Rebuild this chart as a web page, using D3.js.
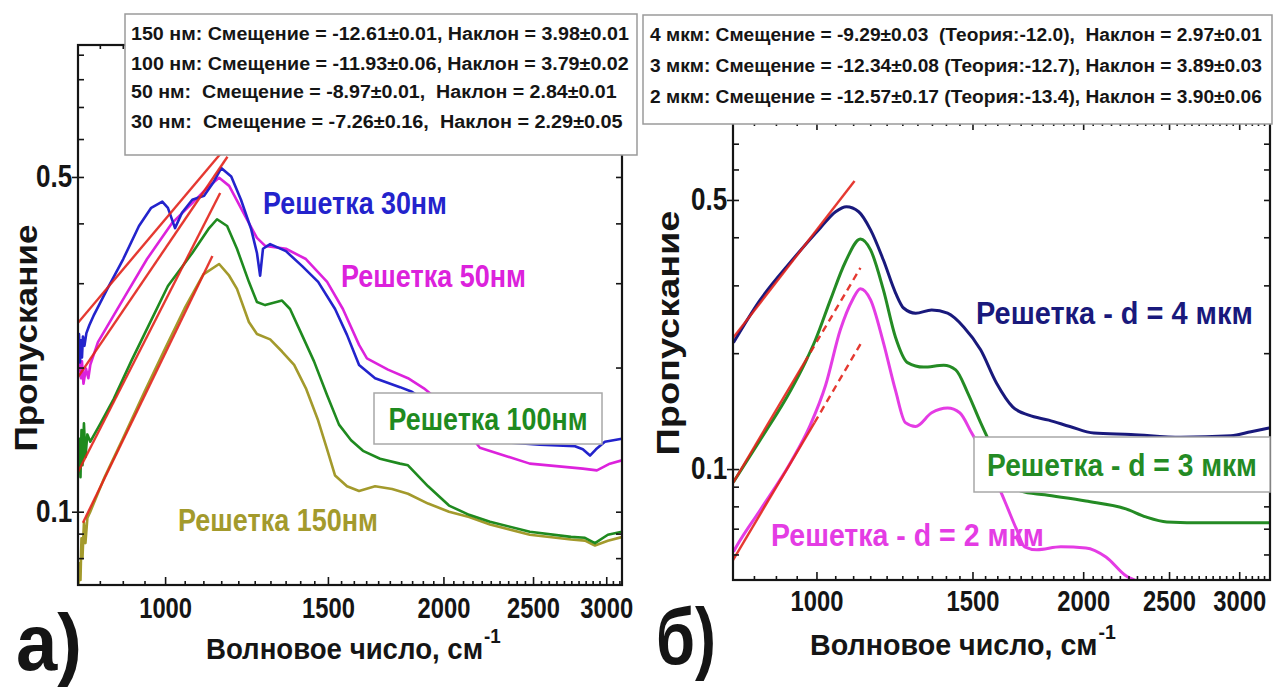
<!DOCTYPE html>
<html>
<head>
<meta charset="utf-8">
<script src="https://cdn.jsdelivr.net/npm/d3@7"></script>
<style>
  html, body { margin: 0; padding: 0; background: #fff; }
  svg text { font-family: "Liberation Sans", Arial, sans-serif; white-space: pre; }
</style>
</head>
<body>
<svg id="chart" width="1274" height="690"></svg>
<script>
// ---------- data ----------
const X_TICKS   = [1000, 1500, 2000, 2500, 3000];
const Y_TICKS   = [0.1, 0.5];
const Y_MINOR_A = [0.08, 0.09, 0.2, 0.3, 0.4, 0.6, 0.7, 0.8, 0.9];
const Y_MINOR_B = [0.06, 0.07, 0.08, 0.09, 0.2, 0.3, 0.4, 0.6, 0.7];

const LEGEND_A = [
  "150 нм: Смещение = -12.61±0.01, Наклон = 3.98±0.01",
  "100 нм: Смещение = -11.93±0.06, Наклон = 3.79±0.02",
  "50 нм:  Смещение = -8.97±0.01,  Наклон = 2.84±0.01",
  "30 нм:  Смещение = -7.26±0.16,  Наклон = 2.29±0.05"
];
const LEGEND_B = [
  "4 мкм: Смещение = -9.29±0.03  (Теория:-12.0),  Наклон = 2.97±0.01",
  "3 мкм: Смещение = -12.34±0.08 (Теория:-12.7), Наклон = 3.89±0.03",
  "2 мкм: Смещение = -12.57±0.17 (Теория:-13.4), Наклон = 3.90±0.06"
];

// panel а) : [wavenumber cm-1, transmission]
const NM30 = [[805,0.212],[807,0.235],[809,0.205],[811,0.228],[813,0.21],[815,0.232],[818,0.222],[822,0.236],[828,0.245],
  [838,0.258],[866,0.292],[901,0.337],[937,0.395],[966,0.431],[993,0.444],[1007,0.431],[1025,0.391],[1043,0.421],
  [1070,0.448],[1102,0.457],[1127,0.486],[1150,0.522],[1179,0.501],[1208,0.448],[1239,0.389],[1257,0.347],[1267,0.311],
  [1276,0.354],[1299,0.362],[1351,0.350],[1406,0.326],[1464,0.302],[1527,0.265],[1573,0.234],[1621,0.2025],[1687,0.190],
  [1795,0.182],[1849,0.178],[1983,0.163],[2190,0.141],[2543,0.138],[2775,0.137],[2830,0.135],[2881,0.131],[2924,0.135],
  [2990,0.140],[3119,0.142]];
const NM50 = [[805,0.196],[808,0.212],[811,0.19],[813,0.206],[816,0.185],[821,0.199],[826,0.19],[830,0.2025],[846,0.226],
  [901,0.278],[956,0.337],[1018,0.401],[1070,0.441],[1116,0.479],[1144,0.498],[1173,0.479],[1220,0.415],[1257,0.373],
  [1283,0.359],[1351,0.354],[1420,0.337],[1497,0.302],[1557,0.265],[1621,0.223],[1653,0.209],[1742,0.198],[1831,0.190],
  [1905,0.181],[2033,0.163],[2190,0.136],[2480,0.126],[2830,0.123],[2931,0.122],[3027,0.126],[3119,0.128]];
const NM100 = [[805,0.122],[808,0.142],[810,0.118],[812,0.148],[814,0.125],[817,0.153],[820,0.13],[824,0.145],[830,0.14],
  [850,0.152],[880,0.172],[920,0.207],[960,0.245],[1007,0.296],[1040,0.322],[1070,0.347],[1116,0.391],[1138,0.408],
  [1167,0.395],[1196,0.354],[1232,0.302],[1257,0.274],[1283,0.270],[1338,0.276],[1365,0.265],[1406,0.234],[1449,0.206],
  [1497,0.175],[1542,0.152],[1589,0.141],[1637,0.134],[1708,0.129],[1795,0.126],[1831,0.125],[1925,0.113],[2028,0.103],
  [2132,0.0985],[2246,0.0953],[2480,0.0908],[2748,0.0886],[2845,0.0882],[2917,0.086],[3012,0.0895],[3119,0.0908]];
const NM150 = [[805,0.068],[808,0.078],[810,0.072],[812,0.088],[814,0.08],[817,0.095],[820,0.086],[824,0.097],[830,0.1],
  [860,0.118],[900,0.142],[950,0.178],[1000,0.219],[1050,0.266],[1100,0.313],[1144,0.329],[1173,0.311],[1196,0.292],
  [1232,0.249],[1257,0.235],[1299,0.229],[1338,0.216],[1379,0.2025],[1420,0.181],[1464,0.155],[1497,0.135],[1527,0.119],
  [1573,0.113],[1621,0.1105],[1687,0.113],[1760,0.1115],[1831,0.109],[1925,0.104],[2028,0.100],[2132,0.0975],[2246,0.094],
  [2480,0.0895],[2748,0.0875],[2845,0.087],[2917,0.085],[3012,0.087],[3119,0.0885]];

// straight fits (log-log), end points
const FITS_A = [
  [[805,0.248],[1148,0.559]],
  [[805,0.191],[1168,0.551]],
  [[805,0.121],[1147,0.463]],
  [[815,0.0948],[1125,0.342]]
];

// panel б)
const UM4 = [[806,0.213],[864,0.275],[935,0.345],[1010,0.423],[1051,0.466],[1081,0.480],[1116,0.466],[1151,0.418],
  [1190,0.349],[1228,0.287],[1254,0.262],[1294,0.254],[1349,0.259],[1406,0.254],[1466,0.234],[1532,0.204],[1597,0.167],
  [1665,0.145],[1736,0.138],[1829,0.134],[1932,0.129],[2056,0.124],[2264,0.123],[2578,0.121],[2936,0.122],[3093,0.125],
  [3250,0.128]];
const UM3 = [[806,0.0925],[864,0.119],[935,0.160],[972,0.190],[997,0.216],[1037,0.275],[1078,0.345],[1121,0.396],
  [1151,0.371],[1190,0.292],[1228,0.220],[1267,0.189],[1321,0.184],[1392,0.186],[1436,0.181],[1481,0.158],[1532,0.132],
  [1593,0.109],[1635,0.0966],[1700,0.0877],[1810,0.0857],[2014,0.0826],[2235,0.0788],[2354,0.0751],[2486,0.0729],
  [2759,0.0725],[3250,0.0725]];
const UM2 = [[806,0.061],[814,0.0635],[864,0.0783],[935,0.104],[984,0.130],[1024,0.165],[1064,0.230],[1098,0.275],
  [1121,0.294],[1151,0.275],[1190,0.213],[1228,0.160],[1260,0.132],[1294,0.129],[1349,0.140],[1406,0.144],[1451,0.140],
  [1497,0.124],[1565,0.1025],[1631,0.0826],[1683,0.0695],[1718,0.0628],[1773,0.0617],[1887,0.0628],[2014,0.0624],
  [2122,0.0591],[2235,0.0528],[2306,0.0509],[2380,0.048]];

// fits: solid part then dashed extension
const FITS_B = [
  { solid: [[805,0.219],[1104,0.560]], dashed: null },
  { solid: [[805,0.0921],[969,0.189]], dashed: [[969,0.189],[1121,0.333]] },
  { solid: [[805,0.058],[995,0.132]],  dashed: [[995,0.132],[1125,0.214]] }
];

const COLORS = {
  nm30: "#2323cc", nm50: "#dc22dc", nm100: "#1f8a1f", nm150: "#a39a2c",
  um4: "#19197c", um3: "#248b24", um2: "#e43ce4", fit: "#e2231b", ink: "#151515"
};

// ---------- drawing ----------
const svg = d3.select("#chart");
const defs = svg.append("defs");

// text squeezed horizontally (scale) so it spans `len` pixels like the narrow font of the figure
function txt(parent, s, x, y, o = {}) {
  const g = parent.append("g")
    .attr("transform", `translate(${x},${y})` + (o.rot ? ` rotate(${o.rot})` : ""));
  const t = g.append("text")
    .attr("text-anchor", o.anchor || "start")
    .attr("dominant-baseline", o.base || "central")
    .attr("font-size", o.size || 20)
    .attr("font-weight", o.weight || 700)
    .attr("fill", o.fill || COLORS.ink)
    .text(s);
  if (o.sup) {
    t.append("tspan").attr("font-size", o.size * 0.68).attr("dy", -o.size * 0.45).attr("dx", 1).text(o.sup);
  }
  if (o.len) {
    const w = t.node().getComputedTextLength();
    t.attr("transform", `scale(${(o.len / w).toFixed(4)},1)`);
  }
  return t;
}

function panel(id, box, xDom, yDom) {
  const x = d3.scaleLog().domain(xDom).range([box.l, box.r]);
  const y = d3.scaleLog().domain(yDom).range([box.b, box.t]);
  defs.append("clipPath").attr("id", "clip-" + id)
    .append("rect").attr("x", box.l).attr("y", box.t)
    .attr("width", box.r - box.l).attr("height", box.b - box.t);
  const g = svg.append("g").attr("class", "panel-" + id);
  return { x, y, g, box, clip: `url(#clip-${id})` };
}

function drawAxes(p, yMinor, xPad) {
  const { x, y, g, box } = p;
  const [x0, x1] = x.domain();
  const minorX = d3.range(850, 3300, 50).filter(v => !X_TICKS.includes(v) && v > x0 && v < x1);
  const ax = g.append("g").attr("class", "axes").attr("color", COLORS.ink);

  const tidy = s => { s.select(".domain").remove(); s.selectAll("line").attr("stroke-width", 1.6); };
  const font = (size, sx) => s => s.selectAll("text")
    .attr("font-size", size).attr("font-weight", 700)
    .attr("font-family", "Liberation Sans, Arial, sans-serif")
    .attr("transform", `scale(${sx},1)`);

  ax.append("g").attr("transform", `translate(0,${box.b})`)
    .call(d3.axisBottom(x).tickValues(minorX).tickSize(-4).tickFormat("")).call(tidy);
  ax.append("g").attr("transform", `translate(0,${box.t})`)
    .call(d3.axisTop(x).tickValues(minorX).tickSize(-4).tickFormat("")).call(tidy);
  ax.append("g").attr("transform", `translate(0,${box.t})`)
    .call(d3.axisTop(x).tickValues(X_TICKS).tickSize(-8).tickFormat("")).call(tidy);

  ax.append("g").attr("transform", `translate(0,${box.b})`)
    .call(d3.axisBottom(x).tickValues(X_TICKS).tickSize(-8).tickPadding(xPad).tickFormat(d3.format("d")))
    .call(tidy).call(font(29, 0.82));

  // y: minor inside on both sides, majors crossing with labels
  ax.append("g").attr("transform", `translate(${box.l},0)`)
    .call(d3.axisLeft(y).tickValues(yMinor.concat(Y_TICKS)).tickSize(-6).tickFormat("")).call(tidy);
  ax.append("g").attr("transform", `translate(${box.r},0)`)
    .call(d3.axisRight(y).tickValues(yMinor.concat(Y_TICKS)).tickSize(-6).tickFormat("")).call(tidy);
  ax.append("g").attr("transform", `translate(${box.l},0)`)
    .call(d3.axisLeft(y).tickValues(Y_TICKS).tickSize(6).tickPadding(1).tickFormat(d3.format(".1f")))
    .call(tidy).call(font(31, 0.84));

  ax.append("rect")
    .attr("x", box.l).attr("y", box.t)
    .attr("width", box.r - box.l).attr("height", box.b - box.t)
    .attr("fill", "none").attr("stroke", COLORS.ink).attr("stroke-width", 2.2);
}

function drawCurves(p, series, curve, width) {
  const line = d3.line().x(d => p.x(d[0])).y(d => p.y(d[1])).curve(curve);
  p.g.append("g").attr("clip-path", p.clip)
    .selectAll("path").data(series).join("path")
    .attr("fill", "none")
    .attr("stroke", d => d.color)
    .attr("stroke-width", width)
    .attr("stroke-linejoin", "round")
    .attr("d", d => line(d.values));
}

function drawFits(p, segs, dashed) {
  const line = d3.line().x(d => p.x(d[0])).y(d => p.y(d[1]));
  p.g.append("g").attr("clip-path", p.clip)
    .selectAll("path").data(segs).join("path")
    .attr("fill", "none")
    .attr("stroke", COLORS.fit)
    .attr("stroke-opacity", 0.9)
    .attr("stroke-width", 2.4)
    .attr("stroke-dasharray", dashed ? "7,5" : null)
    .attr("d", line);
}

function boxedLabel(g, r, s, color, len, size) {
  g.append("rect").attr("x", r.x).attr("y", r.y).attr("width", r.w).attr("height", r.h)
    .attr("fill", "#fff").attr("stroke", "#a8a8a8").attr("stroke-width", 1.5);
  txt(g, s, r.x + r.w / 2, r.y + r.h / 2 + 1, { anchor: "middle", size, fill: color, len });
}

// ===== panel а) =====
const A = panel("a", { l: 78, r: 622, t: 45, b: 585 }, [805, 3120], [0.0703, 0.943]);
drawCurves(A, [
  { color: COLORS.nm150, values: NM150 },
  { color: COLORS.nm100, values: NM100 },
  { color: COLORS.nm50,  values: NM50 },
  { color: COLORS.nm30,  values: NM30 }
], d3.curveLinear, 2.6);
drawFits(A, FITS_A, false);
drawAxes(A, Y_MINOR_A, 12);

txt(A.g, "Решетка 30нм", 263, 203, { size: 31, fill: COLORS.nm30, len: 184 });
txt(A.g, "Решетка 50нм", 341, 276, { size: 31, fill: COLORS.nm50, len: 185 });
txt(A.g, "Решетка 150нм", 178, 520, { size: 31, fill: COLORS.nm150, len: 200 });
boxedLabel(A.g, { x: 374, y: 393, w: 228, h: 51 }, "Решетка 100нм", COLORS.nm100, 199, 31);

// legend a
const legA = svg.append("g");
legA.append("rect").attr("x", 125).attr("y", 14).attr("width", 512).attr("height", 141)
  .attr("fill", "#fff").attr("stroke", "#9a9a9a").attr("stroke-width", 1.5);
const lenA = [498, 498, 486, 492];
LEGEND_A.forEach((s, i) => txt(legA, s, 131, 34 + i * 29, { size: 19, len: lenA[i] }));

// y / x titles
txt(svg, "Пропускание", 26, 338, { anchor: "middle", size: 31, len: 227, rot: -90 });
txt(svg, "Волновое число, см", 206, 649, { size: 29, len: 294, sup: "-1" });
txt(svg, "а)", 16, 670, { base: "auto", size: 80, weight: 700, len: 66 });

// ===== panel б) =====
const B = panel("b", { l: 733, r: 1270, t: 122, b: 580 }, [805, 3250], [0.0515, 0.797]);
drawCurves(B, [
  { color: COLORS.um2, values: UM2 },
  { color: COLORS.um3, values: UM3 },
  { color: COLORS.um4, values: UM4 }
], d3.curveMonotoneX, 3);
drawFits(B, FITS_B.map(f => f.solid), false);
drawFits(B, FITS_B.filter(f => f.dashed).map(f => f.dashed), true);
drawAxes(B, Y_MINOR_B, 10);

txt(B.g, "Решетка - d = 4 мкм", 976, 313, { size: 31, fill: COLORS.um4, len: 277 });
txt(B.g, "Решетка - d = 2 мкм", 771, 535, { size: 31, fill: COLORS.um2, len: 273 });
boxedLabel(B.g, { x: 974, y: 437, w: 296, h: 55 }, "Решетка - d = 3 мкм", COLORS.um3, 270, 31);

const legB = svg.append("g");
legB.append("rect").attr("x", 643).attr("y", 15).attr("width", 629).attr("height", 109)
  .attr("fill", "#fff").attr("stroke", "#9a9a9a").attr("stroke-width", 1.5);
LEGEND_B.forEach((s, i) => txt(legB, s, 650, 35 + i * 31, { size: 18.5, len: 612 }));

txt(svg, "Пропускание", 668, 333, { anchor: "middle", size: 31, len: 245, rot: -90 });
txt(svg, "Волновое число, см", 810, 645, { size: 29, len: 305, sup: "-1" });
txt(svg, "б)", 656, 664, { base: "auto", size: 80, weight: 700, len: 60 });
</script>
</body>
</html>
